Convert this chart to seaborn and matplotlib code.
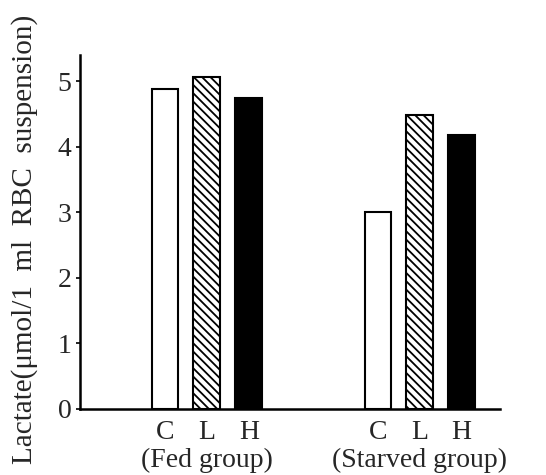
import matplotlib
matplotlib.use("Agg")
import matplotlib.pyplot as plt
import seaborn as sns
import pandas as pd
from matplotlib.transforms import blended_transform_factory

groups = ["Fed", "Fed", "Fed", "Starved", "Starved", "Starved"]
treatments = ["C", "L", "H", "C", "L", "H"]
values = [4.89, 5.06, 4.75, 3.00, 4.48, 4.18]
group_labels = ["(Fed group)", "(Starved group)"]
y_ticks = [0, 1, 2, 3, 4, 5]

df = pd.DataFrame({"group": groups, "treatment": treatments, "lactate": values})

sns.set_theme(style="ticks")
plt.rcParams["font.family"] = ["Liberation Serif", "DejaVu Serif"]
plt.rcParams["hatch.linewidth"] = 1.3

fig = plt.figure(figsize=(5.46, 4.75), dpi=100)
ax = fig.add_axes([0.1465, 0.139, 0.769, 0.745])

sns.barplot(data=df, x="group", y="lactate", hue="treatment",
            hue_order=["C", "L", "H"], palette=["white", "white", "black"],
            width=0.59, gap=0.36, edgecolor="black", linewidth=1.5,
            legend=False, ax=ax, errorbar=None)

for p in ax.containers[1]:
    p.set_hatch("\\\\\\\\")

ax.set_xlim(-0.596, 1.376)
ax.set_ylim(0, 5.4)
ax.set_yticks(y_ticks)
ax.set_yticklabels([str(t) for t in y_ticks], fontsize=20)
ax.tick_params(axis="y", length=3, width=1.2, pad=3, color="black")

centers, labels = [], []
for cont, lab in zip(ax.containers, ["C", "L", "H"]):
    for p in cont:
        centers.append(p.get_x() + p.get_width() / 2)
        labels.append(lab)
ax.set_xticks(centers)
ax.set_xticklabels(labels, fontsize=20)
ax.tick_params(axis="x", length=0, pad=8)

trans = blended_transform_factory(ax.transData, ax.transAxes)
for i, g in enumerate(group_labels):
    ax.text(i, -0.11, g, transform=trans, ha="center", va="top", fontsize=20)

ax.set_xlabel("")
ax.set_ylabel("Lactate(μmol/1  ml  RBC  suspension)", fontsize=21)
ax.yaxis.set_label_coords(-0.1, 0.48)

for s in ["top", "right"]:
    ax.spines[s].set_visible(False)
for s in ["left", "bottom"]:
    ax.spines[s].set_linewidth(1.8)
    ax.spines[s].set_color("black")

fig.savefig("out.png", dpi=100)
